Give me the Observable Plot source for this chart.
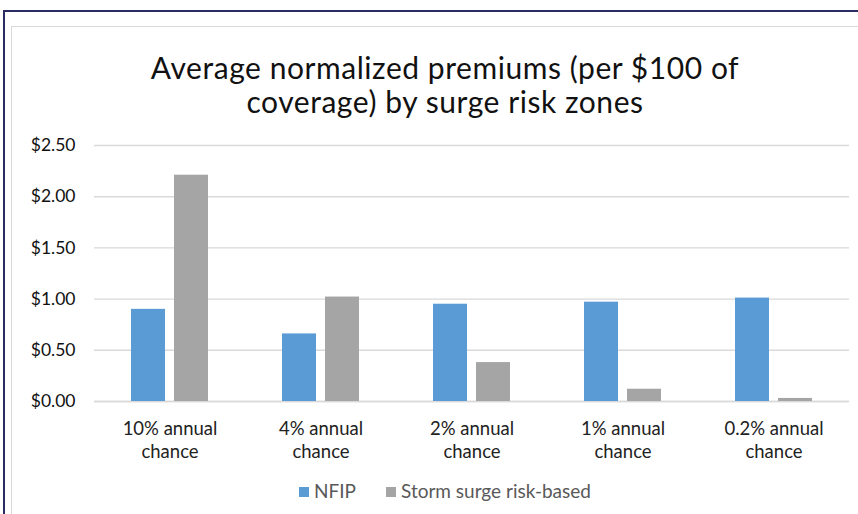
<!DOCTYPE html>
<html>
<head>
<meta charset="utf-8">
<script src="https://cdn.jsdelivr.net/npm/d3@7"></script>
<script src="https://cdn.jsdelivr.net/npm/@observablehq/plot@0.6"></script>
<style>
  html, body { margin: 0; padding: 0; background: #fff; }
  #wrap { position: relative; width: 858px; height: 514px; overflow: hidden; font-family: Lato, "Open Sans", sans-serif; }
  #outer { position: absolute; left: 3px; top: 10px; width: 1000px; height: 1000px; border: 2px solid #2b2d62; box-sizing: border-box; }
  #inner { position: absolute; left: 11px; top: 26px; width: 1000px; height: 1000px; border: 1.5px solid #d9d9d9; box-sizing: border-box; }
  .tline { position: absolute; left: 0; width: 890px; text-align: center; font-size: 30px; line-height: 34px; height: 34px; letter-spacing: 0.55px; color: #111; white-space: nowrap; }
  #t1 { top: 50px; }
  #t2 { top: 84px; }
  #chart { position: absolute; left: 0; top: 0; }
  #legend { position: absolute; left: 0; top: 479px; width: 890px; text-align: center; font-size: 19px; color: #595959; white-space: nowrap; }
  .sw { display: inline-block; width: 10px; height: 10px; margin-right: 5px; vertical-align: 1px; }
  .item { margin: 0 15px; }
</style>
</head>
<body>
<div id="wrap">
  <div id="outer"></div>
  <div id="inner"></div>
  <div id="chart"></div>
  <div class="tline" id="t1">Average normalized premiums (per $100 of</div>
  <div class="tline" id="t2">coverage) by surge risk zones</div>
  <div id="legend"></div>
</div>
<script>
const zones = ["10% annual chance", "4% annual chance", "2% annual chance", "1% annual chance", "0.2% annual chance"];
const zoneLabels = ["10% annual\nchance", "4% annual\nchance", "2% annual\nchance", "1% annual\nchance", "0.2% annual\nchance"];
const seriesNames = ["NFIP", "Storm surge risk-based"];
const nfip = [0.90, 0.66, 0.95, 0.97, 1.01];
const stormSurge = [2.21, 1.02, 0.38, 0.12, 0.03];
const colors = ["#5b9bd5", "#a5a5a5"];
const yTicks = [0, 0.5, 1.0, 1.5, 2.0, 2.5];

const data = [];
zones.forEach((z, i) => {
  data.push({zone: z, series: seriesNames[0], value: nfip[i]});
  data.push({zone: z, series: seriesNames[1], value: stormSurge[i]});
});
const labelOf = new Map(zones.map((z, i) => [z, zoneLabels[i]]));

const chart = Plot.plot({
  width: 858,
  height: 514,
  marginLeft: 94,
  marginRight: 9,
  marginTop: 145,
  marginBottom: 113,
  style: {fontFamily: "Lato, 'Open Sans', sans-serif", background: "transparent", overflow: "visible"},
  fx: {domain: zones, padding: 0},
  x: {domain: seriesNames, paddingInner: 0.21, paddingOuter: 0.86, axis: null},
  y: {domain: [0, 2.5]},
  color: {domain: seriesNames, range: colors},
  marks: [
    Plot.gridY(yTicks, {stroke: "#d9d9d9", strokeOpacity: 1, strokeWidth: 1.4}),
    Plot.ruleY([0], {stroke: "#d9d9d9", strokeWidth: 1.6}),
    Plot.barY(data, {fx: "zone", x: "series", y: "value", fill: "series"}),
    Plot.axisY(yTicks, {tickSize: 0, tickPadding: 19, tickFormat: d3.format("$.2f"), fontSize: 17.5, fill: "#111", label: null}),
    Plot.axisFx({anchor: "bottom", tickSize: 0, tickPadding: 17, tickFormat: d => labelOf.get(d), fontSize: 18.5, fill: "#222", lineHeight: 1.25, label: null})
  ]
});
document.getElementById("chart").appendChild(chart);

const legend = document.getElementById("legend");
seriesNames.forEach((s, i) => {
  const span = document.createElement("span");
  span.className = "item";
  const sw = document.createElement("span");
  sw.className = "sw";
  sw.style.background = colors[i];
  span.appendChild(sw);
  span.appendChild(document.createTextNode(s));
  legend.appendChild(span);
});
</script>
</body>
</html>
